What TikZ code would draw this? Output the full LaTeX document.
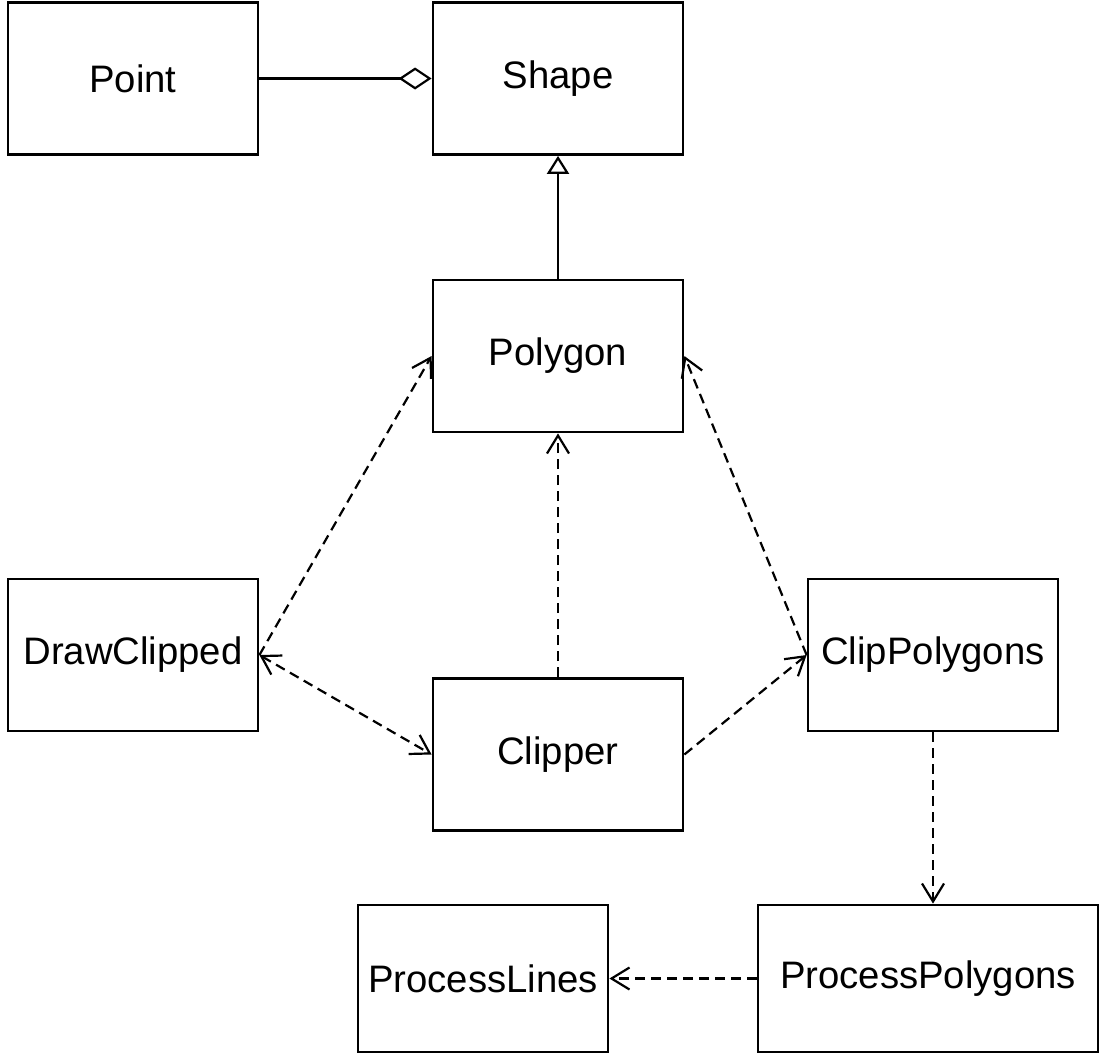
\documentclass[tikz,border=0pt]{standalone}
\usepackage{fontspec}
\setmainfont{Liberation Sans}
\usetikzlibrary{arrows.meta}
\tikzset{
  cls/.style={draw, line width=2.8pt, rectangle, minimum width=250pt, minimum height=152pt, inner sep=0pt, font=\fontsize{38.3}{46}\selectfont},
  dep/.style={dashed, dash pattern=on 10pt off 6pt, line width=2.2pt},
  barb/.style={-{Straight Barb[length=18pt,width=22pt,line width=2.2pt]}},
  barbs/.style={{Straight Barb[length=18pt,width=22pt,line width=2.2pt]}-{Straight Barb[length=18pt,width=22pt,line width=2.2pt]}},
}
\begin{document}
\begin{tikzpicture}[x=1pt,y=-1pt]
\useasboundingbox (0,0) rectangle (1099,1055);
\node[cls] (point) at (133,78.5) {Point};
\node[cls] (shape) at (558,78.5) {Shape};
\node[cls] (polygon) at (558,356) {Polygon};
\node[cls] (draw) at (133,655) {DrawClipped};
\node[cls] (clipper) at (558,754.5) {Clipper};
\node[cls] (clippoly) at (933,655) {ClipPolygons};
\node[cls, minimum height=147pt] (plines) at (483,978.5) {ProcessLines};
\node[cls, minimum width=340pt, minimum height=147pt] (ppolys) at (928,978.5) {ProcessPolygons};
% association with aggregation
\draw[line width=2.2pt, -{Diamond[open,length=33pt,width=22pt,line width=2.2pt]}] (point.east) -- (shape.west);
% generalization
\draw[line width=2.2pt, -{Triangle[open,length=18pt,width=22pt,line width=2.2pt]}] (polygon.north) -- (shape.south);
% dependencies
\draw[dep, barb] (draw.east) -- (polygon.west);
\draw[dep, barbs] (draw.east) -- (clipper.west);
\draw[dep, barb] (clipper.north) -- (polygon.south);
\draw[dep, barb] (clippoly.west) -- (polygon.east);
\draw[dep, barb] (clipper.east) -- (clippoly.west);
\draw[dep, barb] (clippoly.south) -- (clippoly.south |- ppolys.north);
\draw[dep, barb] (ppolys.west) -- (plines.east);
\end{tikzpicture}
\end{document}
